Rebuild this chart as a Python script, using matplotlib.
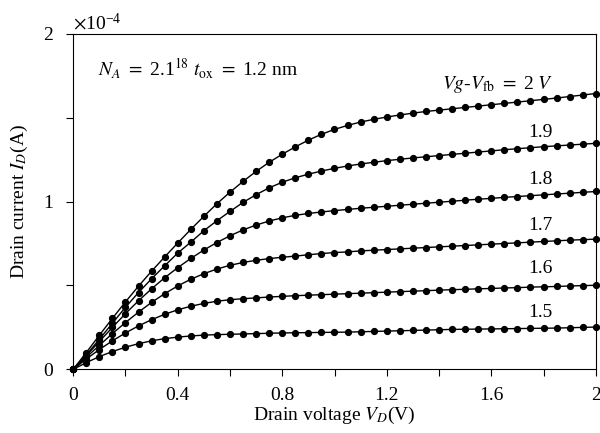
import matplotlib
matplotlib.use("Agg")
import matplotlib.pyplot as plt
import numpy as np
from matplotlib.ticker import ScalarFormatter, MultipleLocator

plt.rcParams["font.family"] = ["Liberation Serif", "DejaVu Serif"]
plt.rcParams["mathtext.fontset"] = "stix"
plt.rcParams["font.size"] = 14

# Drain voltage samples (V)
vd = np.arange(41) * 0.05

# Drain current, in units of 1e-4 A, one list per Vg - Vfb
id_20 = [0, 0.100, 0.203, 0.304, 0.402, 0.496, 0.585, 0.670, 0.753, 0.834, 0.912, 0.987,
         1.056, 1.120, 1.180, 1.234, 1.282, 1.326, 1.366, 1.401, 1.430, 1.454, 1.474, 1.490,
         1.504, 1.516, 1.527, 1.537, 1.545, 1.553, 1.561, 1.569, 1.577, 1.585, 1.593, 1.601,
         1.609, 1.617, 1.626, 1.635, 1.644]
id_19 = [0, 0.086, 0.179, 0.275, 0.370, 0.458, 0.540, 0.617, 0.693, 0.758, 0.826, 0.886,
         0.941, 0.995, 1.041, 1.082, 1.115, 1.142, 1.163, 1.182, 1.198, 1.212, 1.224, 1.234,
         1.244, 1.252, 1.260, 1.267, 1.274, 1.281, 1.288, 1.295, 1.302, 1.309, 1.315, 1.321,
         1.327, 1.332, 1.337, 1.342, 1.347]
id_18 = [0, 0.082, 0.166, 0.250, 0.332, 0.409, 0.480, 0.546, 0.606, 0.661, 0.711, 0.756,
         0.796, 0.831, 0.860, 0.884, 0.903, 0.918, 0.929, 0.938, 0.946, 0.953, 0.960, 0.966,
         0.972, 0.978, 0.984, 0.990, 0.996, 1.002, 1.008, 1.014, 1.019, 1.025, 1.030, 1.035,
         1.040, 1.045, 1.050, 1.055, 1.060]
id_17 = [0, 0.072, 0.143, 0.213, 0.279, 0.341, 0.399, 0.451, 0.497, 0.537, 0.570, 0.598,
         0.620, 0.637, 0.650, 0.660, 0.668, 0.675, 0.683, 0.690, 0.696, 0.700, 0.706, 0.710,
         0.714, 0.718, 0.722, 0.726, 0.730, 0.734, 0.738, 0.742, 0.746, 0.750, 0.754, 0.758,
         0.762, 0.766, 0.770, 0.773, 0.776]
id_16 = [0, 0.062, 0.118, 0.170, 0.217, 0.259, 0.296, 0.328, 0.355, 0.376, 0.393, 0.406,
         0.415, 0.421, 0.426, 0.431, 0.435, 0.439, 0.442, 0.445, 0.448, 0.451, 0.454, 0.457,
         0.460, 0.463, 0.466, 0.469, 0.472, 0.475, 0.477, 0.480, 0.482, 0.485, 0.487, 0.490,
         0.492, 0.494, 0.497, 0.499, 0.501]
id_15 = [0, 0.040, 0.076, 0.106, 0.132, 0.153, 0.170, 0.183, 0.192, 0.199, 0.204, 0.207,
         0.209, 0.211, 0.213, 0.215, 0.217, 0.218, 0.219, 0.220, 0.221, 0.222, 0.224, 0.226,
         0.228, 0.230, 0.232, 0.234, 0.236, 0.238, 0.239, 0.240, 0.241, 0.242, 0.243, 0.244,
         0.245, 0.246, 0.248, 0.250, 0.252]

curves = [id_20, id_19, id_18, id_17, id_16, id_15]
labels = ["$Vg$-$V_{\\mathrm{fb}}$ $=$ 2 $V$", "1.9", "1.8", "1.7", "1.6", "1.5"]
label_y = [1.70, 1.41, 1.13, 0.86, 0.60, 0.34]

fig = plt.figure(figsize=(6, 4.33), dpi=100)
ax = fig.add_axes([0.122, 0.147, 0.871, 0.775])

for cur in curves:
    ax.plot(vd, np.array(cur) * 1e-4, color="black", lw=1.0,
            marker="o", ms=4.2, clip_on=False, zorder=3)

for lab, yy in zip(labels, label_y):
    ax.text(1.835, yy * 1e-4, lab, ha="right", va="center", fontsize=14)

ax.text(0.095, 1.79e-4, "$N_A$ $=$ 2.1$^{18}$ $t_{\\mathrm{ox}}$ $=$ 1.2 nm",
        ha="left", va="center", fontsize=14)

ax.set_xlim(0, 2)
ax.set_ylim(0, 2e-4)
ax.set_xticks([0, 0.4, 0.8, 1.2, 1.6, 2.0])
ax.set_xticklabels(["0", "0.4", "0.8", "1.2", "1.6", "2"])
ax.xaxis.set_minor_locator(MultipleLocator(0.2))
ax.set_yticks([0, 1e-4, 2e-4])
ax.yaxis.set_minor_locator(MultipleLocator(0.5e-4))
fmt = ScalarFormatter(useMathText=True)
fmt.set_powerlimits((-3, 3))
ax.yaxis.set_major_formatter(fmt)
ax.yaxis.get_offset_text().set_fontsize(14)
ax.yaxis.get_offset_text().set_y(1.02)

ax.tick_params(which="both", direction="out", length=5, width=0.8, labelsize=14)
ax.tick_params(axis="x", which="both", top=False, pad=8)
ax.tick_params(axis="y", which="both", right=False, pad=9)

ax.set_xlabel("Drain voltage $V_D$(V)", fontsize=14, labelpad=0)
ax.set_ylabel("Drain current $I_D$(A)", fontsize=14, labelpad=9)

plt.savefig("out.png", dpi=100)
plt.close()
